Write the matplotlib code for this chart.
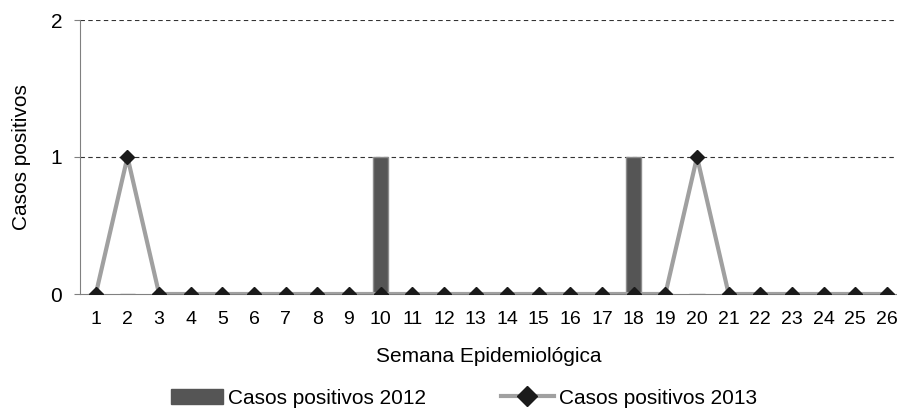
import numpy as np
import matplotlib.pyplot as plt
from matplotlib.lines import Line2D
from matplotlib.patches import Patch

plt.rcParams['font.family'] = ['Liberation Sans', 'DejaVu Sans']

weeks = list(range(1, 27))
casos_2012 = [0, 0, 0, 0, 0, 0, 0, 0, 0, 1, 0, 0, 0, 0, 0, 0, 0, 1, 0, 0, 0, 0, 0, 0, 0, 0]
casos_2013 = [0, 1, 0, 0, 0, 0, 0, 0, 0, 0, 0, 0, 0, 0, 0, 0, 0, 0, 0, 1, 0, 0, 0, 0, 0, 0]

fig = plt.figure(figsize=(8.97, 4.11), dpi=100)
ax = fig.add_axes([80/897, 1 - 294/411, 817/897, 274/411])

#Bars for 2012 and line with diamonds for 2013
ax.bar(weeks, casos_2012, width=0.48, color='#555555', edgecolor='#8c8c8c', linewidth=1, zorder=2)
ax.plot(weeks, casos_2013, color='#a0a0a0', linewidth=3, marker='D', markersize=7,
        markerfacecolor='#1a1a1a', markeredgecolor='#1a1a1a', zorder=3)

ax.set_xlim(0.5, 26.32)
ax.set_ylim(0, 2)
ax.set_yticks([0, 1, 2])
ax.set_xticks(weeks)
ax.set_xticklabels([str(w) for w in weeks])
for y in [1, 2]:
    ax.axhline(y, color='#333333', linestyle=(0, (4, 3)), linewidth=0.8, zorder=1)

for s in ['top', 'right']:
    ax.spines[s].set_visible(False)
ax.spines['left'].set_color('#808080')
ax.spines['bottom'].set_color('#808080')
ax.tick_params(axis='y', length=4.3, color='#808080', labelsize=15, pad=8.6)
ax.tick_params(axis='x', length=0, labelsize=14, pad=12)

ax.set_xlabel('Semana Epidemiológica', fontsize=15, labelpad=14)
ax.set_ylabel('Casos positivos', fontsize=15, labelpad=14)

handles = [Patch(facecolor='#555555', edgecolor='#555555'),
           Line2D([0], [0], color='#a0a0a0', linewidth=3, marker='D', markersize=10,
                  markerfacecolor='#1a1a1a', markeredgecolor='#1a1a1a')]
fig.legend(handles, ['Casos positivos 2012', 'Casos positivos 2013'], loc='center',
           bbox_to_anchor=(464/897, 1 - 398/411), ncol=2, frameon=False, fontsize=15,
           handlelength=2.5, handleheight=0.7, handletextpad=0.25, columnspacing=3.6,
           borderpad=0, borderaxespad=0)

fig.savefig('out.png', dpi=100)
